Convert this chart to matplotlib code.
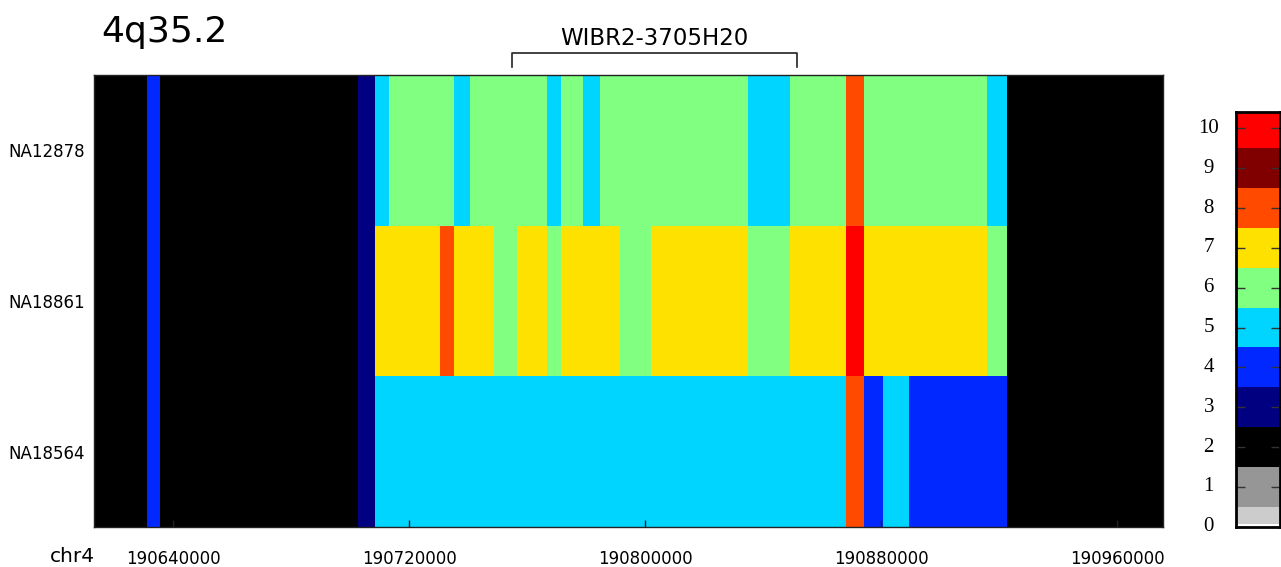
import matplotlib
matplotlib.use("Agg")
import matplotlib.pyplot as plt
import numpy as np
from matplotlib.colors import ListedColormap, BoundaryNorm
from matplotlib.transforms import blended_transform_factory

# ---- data -------------------------------------------------------------
chrom = "chr4"
band = "4q35.2"
samples = ["NA12878", "NA18861", "NA18564"]

# segment boundaries along the chromosome (bp)
edges = [190613000, 190631300, 190635400, 190702600, 190708500, 190713200,
         190730500, 190735300, 190740500, 190748800, 190756700, 190766800,
         190771500, 190778900, 190784600, 190791400, 190801900, 190835000,
         190849200, 190868000, 190874300, 190880700, 190889600, 190915900,
         190922600, 190975600]

# copy number per segment for each sample
cn_NA12878 = [2, 4, 2, 3, 5, 6, 6, 5, 6, 6, 6, 5, 6, 5, 6, 6, 6, 5, 6, 8, 6, 6, 6, 5, 2]
cn_NA18861 = [2, 4, 2, 3, 7, 7, 8, 7, 7, 6, 7, 6, 7, 7, 7, 6, 7, 6, 7, 10, 7, 7, 7, 6, 2]
cn_NA18564 = [2, 4, 2, 3, 5, 5, 5, 5, 5, 5, 5, 5, 5, 5, 5, 5, 5, 5, 5, 8, 4, 5, 4, 4, 2]

# clone annotation
clone_name = "WIBR2-3705H20"
clone_start = 190754900
clone_end = 190851500

xticks = [190640000, 190720000, 190800000, 190880000, 190960000]
cb_ticks = list(range(0, 11))

# palette levels
level_edges = [0, 0.07, 0.5, 1.5, 2.5, 3.5, 4.5, 5.5, 6.5, 7.5, 8.5, 9.5, 10.42]
level_colors = ["#ffffff", "#cccccc", "#969696", "#000000", "#000080", "#0028ff",
                "#00d5ff", "#80ff80", "#ffe100", "#ff4a00", "#800000", "#ff0000"]

# ---- figure -----------------------------------------------------------
W, H = 1281, 567
fig = plt.figure(figsize=(W / 100, H / 100), dpi=100)
plt.rcParams["font.family"] = ["DejaVu Sans"]

cmap = ListedColormap(level_colors)
norm = BoundaryNorm(level_edges, cmap.N)

def fx(px):
    return px / W

def fy(py):
    return 1 - py / H

ax = fig.add_axes([fx(93.5), fy(527), fx(1163) - fx(93.5), fy(75) - fy(527)])

grid = np.array([cn_NA18564, cn_NA18861, cn_NA12878], dtype=float)
ax.pcolormesh(np.array(edges, dtype=float), np.arange(4), grid,
              cmap=cmap, norm=norm, antialiased=False, shading="flat")
ax.set_xlim(edges[0], edges[-1])
ax.set_ylim(0, 3)

ax.set_xticks(xticks)
ax.set_xticklabels([str(t) for t in xticks], fontsize=12)
ax.tick_params(axis="x", direction="in", length=5, width=1, pad=16.5,
               color="#202020", top=False)
ax.set_yticks([2.5, 1.5, 0.5])
ax.set_yticklabels(samples, fontsize=12)
ax.tick_params(axis="y", length=0, pad=6)
for s in ax.spines.values():
    s.set_linewidth(1.0)
    s.set_color("#222222")
ax.set_axisbelow(False)

# chromosome label and band title
fig.text(fx(50), fy(562), chrom, fontsize=14.5, va="baseline", ha="left")
fig.text(fx(101), fy(41.7), band, fontsize=26, va="baseline", ha="left")

# clone bracket above the heatmap
tr = blended_transform_factory(ax.transData, fig.transFigure)
yb_top, yb_bot = fy(53.3), fy(67)
ax.plot([clone_start, clone_start, clone_end, clone_end],
        [yb_bot, yb_top, yb_top, yb_bot], color="#222222", lw=1.2,
        transform=tr, clip_on=False)
ax.text((clone_start + clone_end) / 2, fy(45), clone_name, transform=tr,
        ha="center", va="baseline", fontsize=16.5)

# ---- colour key -------------------------------------------------------
cax = fig.add_axes([fx(1236), fy(526.7), fx(1280) - fx(1236), fy(111.7) - fy(526.7)])
cb_vals = np.array([(a + b) / 2 for a, b in zip(level_edges[:-1], level_edges[1:])])
cax.pcolormesh([0, 1], np.array(level_edges), cb_vals.reshape(-1, 1),
               cmap=cmap, norm=norm, antialiased=False)
cax.set_xlim(0, 1)
cax.set_ylim(level_edges[0], level_edges[-1])
cax.set_xticks([])
cax.set_yticks(cb_ticks)
cax.set_yticklabels([])
cax.tick_params(axis="y", direction="in", length=6.5, width=1, color="#333333",
                left=True, right=True)
for s in cax.spines.values():
    s.set_linewidth(2)
    s.set_color("#000000")
ctr = blended_transform_factory(cax.transAxes, cax.transData)
for v in cb_ticks:
    cax.text(-0.62, v, str(v), transform=ctr, ha="center", va="center",
             fontsize=15, family=["Liberation Serif", "DejaVu Serif"])

fig.savefig("out.png", dpi=100)
